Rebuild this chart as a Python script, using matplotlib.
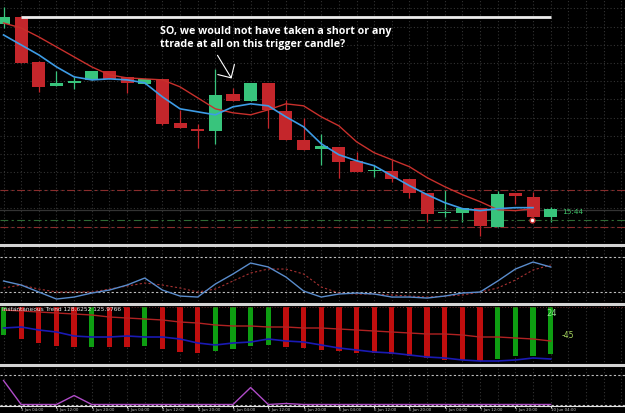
import matplotlib
matplotlib.use('Agg')
import matplotlib.pyplot as plt
from matplotlib.lines import Line2D
import numpy as np

# ---- price candles (one per bar) ----
OPENS = [129.36, 129.43, 128.98, 128.74, 128.77, 128.80, 128.89, 128.83, 128.76, 128.81,
         128.37, 128.31, 128.29, 128.66, 128.59, 128.77, 128.49, 128.20, 128.11, 128.13,
         127.99, 127.89, 127.89, 127.81, 127.67, 127.465, 127.47, 127.52, 127.33, 127.67,
         127.63, 127.43]
HIGHS = [129.53, 129.44, 128.99, 128.89, 128.83, 128.89, 128.89, 128.83, 128.81, 128.81,
         128.50, 128.36, 128.91, 128.72, 128.77, 128.77, 128.60, 128.42, 128.26, 128.13,
         128.08, 127.95, 128.00, 127.81, 127.67, 127.70, 127.52, 127.52, 127.69, 127.67,
         127.68, 127.53]
LOWS = [129.32, 128.97, 128.68, 128.74, 128.71, 128.80, 128.81, 128.67, 128.76, 128.35,
        128.32, 128.12, 128.16, 128.59, 128.59, 128.32, 128.20, 128.10, 127.95, 127.82,
        127.88, 127.83, 127.78, 127.62, 127.38, 127.43, 127.38, 127.24, 127.33, 127.56,
        127.43, 127.38]
CLOSES = [129.43, 128.97, 128.73, 128.77, 128.79, 128.89, 128.81, 128.77, 128.81, 128.36,
          128.32, 128.29, 128.65, 128.59, 128.77, 128.50, 128.20, 128.10, 128.14, 127.98,
          127.88, 127.90, 127.81, 127.67, 127.46, 127.47, 127.52, 127.34, 127.66, 127.64,
          127.43, 127.51]

MA_FAST = [129.25, 129.15, 129.05, 128.93, 128.83, 128.80, 128.81, 128.80, 128.77, 128.63,
           128.51, 128.48, 128.45, 128.53, 128.56, 128.54, 128.43, 128.33, 128.16, 128.05,
           127.99, 127.94, 127.84, 127.74, 127.65, 127.57, 127.51, 127.49, 127.51, 127.52,
           127.52]
MA_SLOW = [129.37, 129.32, 129.23, 129.13, 129.03, 128.93, 128.85, 128.82, 128.81, 128.80,
           128.73, 128.62, 128.51, 128.47, 128.45, 128.50, 128.56, 128.54, 128.43, 128.34,
           128.18, 128.07, 128.00, 127.93, 127.82, 127.73, 127.65, 127.58, 127.50, 127.49,
           127.51]

RESIST_LEVEL = 129.43
UPPER_DASH = 127.70
BID_LEVEL = 127.50
GREEN_DASH = 127.40
LOWER_DASH = 127.33
ENTRY_BAR = 30

# ---- oscillator ----
OSC_MAIN = [38.9, 32.0, 20.0, 8.0, 11.4, 18.3, 23.4, 32.0, 44.0, 23.4,
            13.1, 11.4, 33.7, 50.9, 69.7, 62.9, 45.7, 21.7, 11.4, 16.6,
            18.3, 16.6, 11.4, 11.4, 9.7, 13.1, 18.3, 20.0, 38.9, 59.4,
            71.4, 62.9]
OSC_SIGNAL = [26.9, 32.0, 25.1, 20.0, 20.0, 20.0, 25.1, 30.3, 35.4, 32.0,
              26.9, 20.0, 25.1, 38.9, 52.6, 59.4, 59.4, 50.9, 28.6, 18.3,
              16.6, 16.6, 14.9, 13.1, 11.4, 13.1, 14.9, 20.0, 26.9, 40.6,
              57.7, 66.3]

# ---- instantaneous trend ----
TREND_TOP = 57
TREND_LOW = [29, 25, 21, 18, 17, 17, 17, 17, 18, 15, 12, 11, 13, 15, 18, 19,
             17, 16, 14, 13, 11, 11, 10, 8, 6, 4, 4, 3, 5, 8, 8, 10]
TREND_DIR = 'GRRRRGRRGRRRGGGGRRRRRRRRRRRRGGGG'
TREND_RED = [54, 53, 52, 51, 50, 49, 47, 46, 45, 44, 42, 41, 39, 38, 38, 37,
             37, 36, 36, 35, 34, 33, 32, 31, 30, 30, 29, 27, 27, 26, 25, 23]
TREND_BLUE = [36, 37, 34, 32, 28, 27, 27, 28, 27, 27, 25, 21, 19, 21, 22, 25,
              23, 22, 19, 16, 14, 12, 11, 9, 7, 6, 4, 3, 3, 4, 6, 5]

# ---- bottom indicator ----
BOTTOM_LINE = [24, 0, 0, 0, 9, 0, 0, 0, 0, 0, 0, 0, 0, 0, 17, 0,
               1, 0, 0, 0, 0, 0, 0, 0, 0, 0, 0, 0, 0, 0, 0, 0]

TIME_TICKS = list(range(1, 32, 2))
TIME_LABELS = ['3 Jun 04:00', '3 Jun 12:00', '3 Jun 20:00', '4 Jun 04:00', '4 Jun 12:00',
               '4 Jun 20:00', '5 Jun 04:00', '5 Jun 12:00', '5 Jun 20:00', '6 Jun 04:00',
               '6 Jun 12:00', '6 Jun 20:00', '7 Jun 04:00', '7 Jun 12:00', '7 Jun 20:00',
               '10 Jun 04:00']

NOTE = 'SO, we would not have taken a short or any\nttrade at all on this trigger candle?'

BG = 'black'
GRID = '#333333'
UP = '#38c47c'
DOWN = '#c4262b'
H = 413.0
XLIM = (-0.2, 35.21)


def panel(fig, top_px, bottom_px):
    ax = fig.add_axes([0, (H - bottom_px) / H, 1, (bottom_px - top_px) / H])
    ax.set_facecolor(BG)
    for s in ax.spines.values():
        s.set_visible(False)
    ax.set_xlim(*XLIM)
    ax.set_xticks(range(0, 36))
    ax.tick_params(left=False, labelleft=False, bottom=False, labelbottom=False)
    ax.grid(axis='x', color=GRID, linestyle=(0, (1, 2)), linewidth=0.8)
    ax.set_axisbelow(True)
    return ax


def separator(fig, y_px):
    fig.add_artist(Line2D([0, 1], [(H - y_px) / H] * 2, color='#d4d4d4',
                          linewidth=2.2, transform=fig.transFigure))


fig = plt.figure(figsize=(6.25, 4.13), dpi=100, facecolor=BG)

# main price panel
ax = panel(fig, 0, 244.7)
ax.set_ylim(129.60 - 2.447, 129.60)
ax.set_yticks(np.arange(129.515, 127.1, -0.182))
ax.grid(axis='y', color=GRID, linestyle=(0, (1, 2)), linewidth=0.8)
x = np.arange(len(OPENS))
cols = [UP if c >= o else DOWN for o, c in zip(OPENS, CLOSES)]
ax.vlines(x, LOWS, HIGHS, colors=cols, linewidth=0.9, zorder=2)
body = np.array(CLOSES) - np.array(OPENS)
body = np.where(np.abs(body) < 0.012, np.sign(body + 1e-9) * 0.012, body)
ax.bar(x, body, bottom=OPENS, width=0.74, color=cols, zorder=3)
ax.plot(np.arange(len(MA_SLOW)), MA_SLOW, color='#c8302c', linewidth=1.0, zorder=4)
ax.plot(np.arange(len(MA_FAST)), MA_FAST, color='#3d9ce6', linewidth=1.2, zorder=5)
ax.hlines(RESIST_LEVEL, 1, 31, color='#ececec', linewidth=2.0, zorder=4)
ax.axhline(UPPER_DASH, color='#8a2c2c', linewidth=0.8, linestyle=(0, (7, 3, 2, 3)))
ax.axhline(BID_LEVEL, color='#333333', linewidth=0.9)
ax.axhline(GREEN_DASH, color='#2e6a34', linewidth=0.8, linestyle=(0, (7, 3, 2, 3)))
ax.axhline(LOWER_DASH, color='#8a2c2c', linewidth=0.8, linestyle=(0, (7, 3, 2, 3)))
ax.plot(ENTRY_BAR - 0.05, GREEN_DASH, 'o', ms=3.5, mfc='white', mec='#d03030', mew=1.0, zorder=6)
ax.text(31.65, 127.48, '15:44', color='#3fc46a', fontsize=5.3, va='center', ha='left')
ax.text(8.87, 129.335, NOTE, color='white', fontsize=7.7, fontweight='bold',
        family='Open Sans', va='top', ha='left', linespacing=1.2)
ax.annotate('', xy=(13.0, 128.79), xytext=(12.04, 129.07),
            arrowprops=dict(arrowstyle='->,head_length=0.7,head_width=0.7',
                            color='white', linewidth=0.8))

# oscillator panel
ax2 = panel(fig, 244.7, 303.7)
ax2.set_ylim(0, 101.1)
for lvl in (80, 20):
    ax2.axhline(lvl, color='#bdbdbd', linewidth=0.8, linestyle=(0, (2, 2)))
ax2.plot(x, OSC_SIGNAL, color='#a83232', linewidth=0.8, linestyle=(0, (2, 2)))
ax2.plot(x, OSC_MAIN, color='#5a8ccc', linewidth=1.0)

# instantaneous trend panel
ax3 = panel(fig, 303.7, 365)
ax3.set_ylim(-1, 60.3)
tcols = ['#0e9e12' if d == 'G' else '#c00e0e' for d in TREND_DIR]
ax3.bar(x, np.array(TREND_TOP) - np.array(TREND_LOW), bottom=TREND_LOW, width=0.3,
        color=tcols, zorder=2)
ax3.axhline(TREND_TOP, color='#6a2a2a', linewidth=0.7, linestyle=(0, (1, 2)))
ax3.plot(x, TREND_RED, color='#b02222', linewidth=1.0, zorder=3)
ax3.plot(x, TREND_BLUE, color='#1a1ab4', linewidth=1.2, zorder=3)
ax3.text(2 / 625, 0.9, 'Instantaneous Trend 128.6252 125.9766', transform=ax3.transAxes,
         color='#e6e6e6', fontsize=4.2, va='center', ha='left')
ax3.text(31.05, 51, '24', color='#8fe08f', fontsize=6, va='center', ha='center')
ax3.text(31.6, 29, '-45', color='#a8d860', fontsize=5.5, va='center', ha='left')

# bottom panel
ax4 = panel(fig, 365, 406)
ax4.set_ylim(-1.5, 39.5)
for lvl in (0, 30):
    ax4.axhline(lvl, color='#bdbdbd', linewidth=0.8, linestyle=(0, (2, 2)))
ax4.plot(x, BOTTOM_LINE, color='#b04cc8', linewidth=1.0)
ax4.spines['bottom'].set_visible(True)
ax4.spines['bottom'].set_color('#e0e0e0')
ax4.spines['bottom'].set_linewidth(0.8)

# time axis squeezed into the last few pixels
ax5 = ax4.secondary_xaxis('bottom')
ax5.set_xticks(TIME_TICKS)
ax5.set_xticklabels(TIME_LABELS, fontsize=2.8, color='#c8c8c8', ha='left')
ax5.tick_params(length=1.5, color='#e0e0e0', pad=0.3)
ax5.spines['bottom'].set_visible(False)

for y in (244.7, 303.7, 365):
    separator(fig, y)

fig.savefig('out.png', dpi=100, facecolor=BG)
